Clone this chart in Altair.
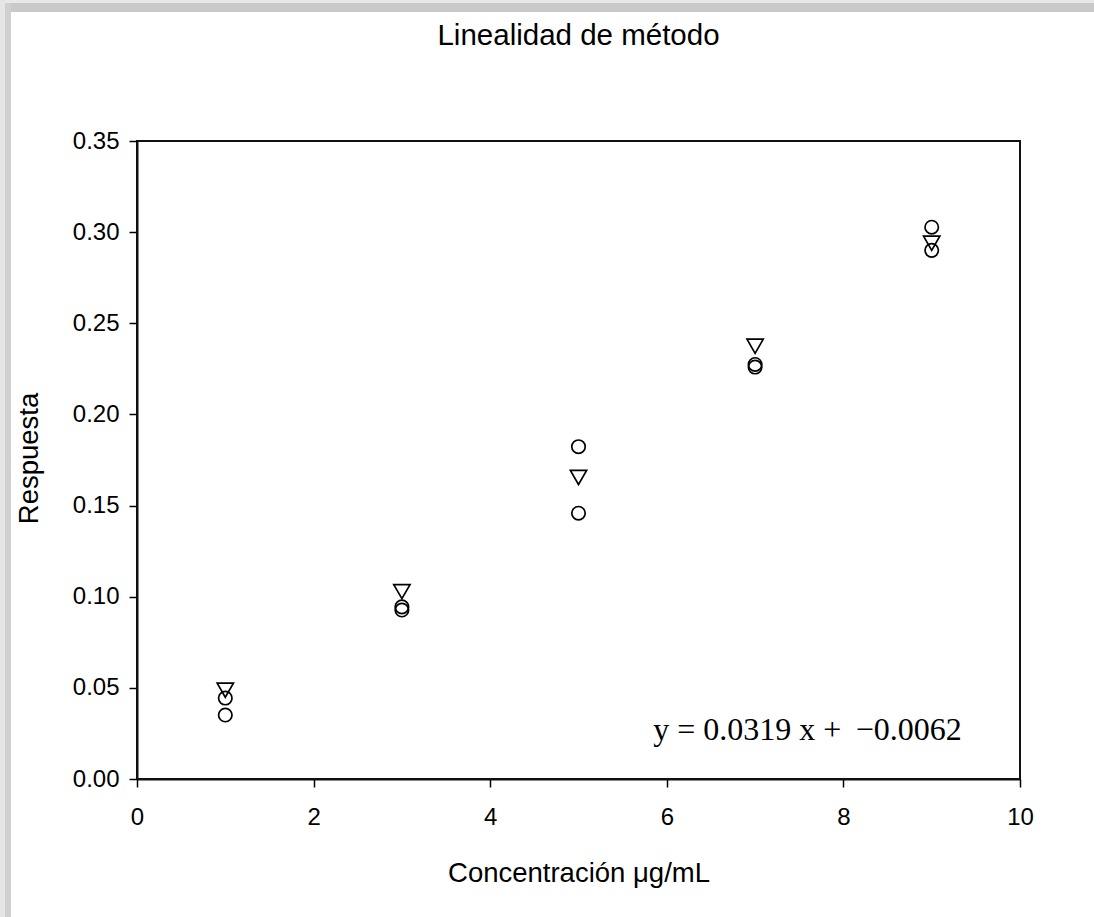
import altair as alt
import pandas as pd

# Data
conc = [1, 3, 5, 7, 9]
rep1 = [0.0444, 0.0944, 0.1823, 0.2274, 0.3027]   # circles (upper)
rep2 = [0.0487, 0.1028, 0.1654, 0.2374, 0.2939]   # down-triangles
rep3 = [0.0351, 0.0927, 0.1458, 0.2260, 0.2900]   # circles (lower)
x_ticks = [0, 2, 4, 6, 8, 10]
y_ticks = [0.0, 0.05, 0.10, 0.15, 0.20, 0.25, 0.30, 0.35]
equation = "y = 0.0319 x + \u2009\u22120.0062"

W, H = 883, 638
PAD_L, PAD_T, PAD_R, PAD_B = 137, 141, 74, 138
TOTAL_W, TOTAL_H = 1094, 917

circles = pd.DataFrame({"conc": conc * 2, "resp": rep1 + rep3})
triangles = pd.DataFrame({"conc": conc, "resp": rep2})
eq_df = pd.DataFrame({"x": [7.593], "y": [0.0214], "t": [equation]})
one = pd.DataFrame({"k": [0]})

FONT = "Liberation Sans"

xscale = alt.Scale(domain=[0, 10], nice=False, zero=False)
yscale = alt.Scale(domain=[0, 0.35], nice=False, zero=False)

xaxis = alt.Axis(values=x_ticks, format="d", title="Concentración \u03bcg/mL",
                 labelPadding=18, titleY=102)
yaxis = alt.Axis(values=y_ticks, format=".2f", title="Respuesta",
                 labelPadding=10, titleX=-100, titleY=317, titleAngle=270)

X = alt.X("conc:Q", scale=xscale, axis=xaxis)
Y = alt.Y("resp:Q", scale=yscale, axis=yaxis)

# decorative grey frame of the picture (outside the plot area)
top_light = alt.Chart(one).mark_rect(color="#e8e8e8").encode(
    x=alt.value(-PAD_L), x2=alt.value(TOTAL_W - PAD_L),
    y=alt.value(-PAD_T), y2=alt.value(-PAD_T + 3))
top_dark = alt.Chart(one).mark_rect(color="#c9c9c9").encode(
    x=alt.value(-PAD_L + 5), x2=alt.value(TOTAL_W - PAD_L),
    y=alt.value(-PAD_T + 3), y2=alt.value(-PAD_T + 12))
left_light = alt.Chart(one).mark_rect(color="#e6e6e6").encode(
    x=alt.value(-PAD_L), x2=alt.value(-PAD_L + 5),
    y=alt.value(-PAD_T), y2=alt.value(TOTAL_H - PAD_T))
left_dark = alt.Chart(one).mark_rect(color="#d0d0d0").encode(
    x=alt.value(-PAD_L + 5), x2=alt.value(-PAD_L + 11),
    y=alt.value(-PAD_T + 3), y2=alt.value(TOTAL_H - PAD_T))

circ = alt.Chart(circles).mark_point(
    shape="circle", filled=False, color="black", strokeWidth=1.7, size=180, opacity=1
).encode(x=X, y=Y)
tri = alt.Chart(triangles).mark_point(
    shape="triangle-down", filled=False, color="black", strokeWidth=1.7, size=265, opacity=1
).encode(x=X, y=Y)
eq = alt.Chart(eq_df).mark_text(
    font="Liberation Serif", fontSize=32, color="black", align="center", baseline="alphabetic"
).encode(
    x=alt.X("x:Q", scale=xscale, axis=xaxis),
    y=alt.Y("y:Q", scale=yscale, axis=yaxis),
    text="t:N",
)

chart = alt.layer(circ, tri, eq, top_light, top_dark, left_light, left_dark).properties(
    width=W, height=H,
    title=alt.TitleParams(
        text="Linealidad de método", fontSize=29.5, font=FONT, fontWeight="normal",
        color="black", anchor="middle", frame="group", offset=-74, baseline="alphabetic",
    ),
    autosize=alt.AutoSizeParams(type="none"),
    padding={"left": PAD_L, "top": PAD_T, "right": PAD_R, "bottom": PAD_B},
    background="white",
).configure_view(
    stroke="#111", strokeWidth=2
).configure_axis(
    grid=False, tickSize=8, tickWidth=1.5, tickColor="black",
    domainColor="#111", domainWidth=2,
    labelFontSize=24, labelFont=FONT, labelColor="black", labelFlush=False,
    titleFontSize=27.5, titleFont=FONT, titleFontWeight="normal", titleColor="black",
    titleBaseline="alphabetic", titleAlign="center",
)

chart.save("out.html", embed_options={"renderer": "svg", "actions": False})
